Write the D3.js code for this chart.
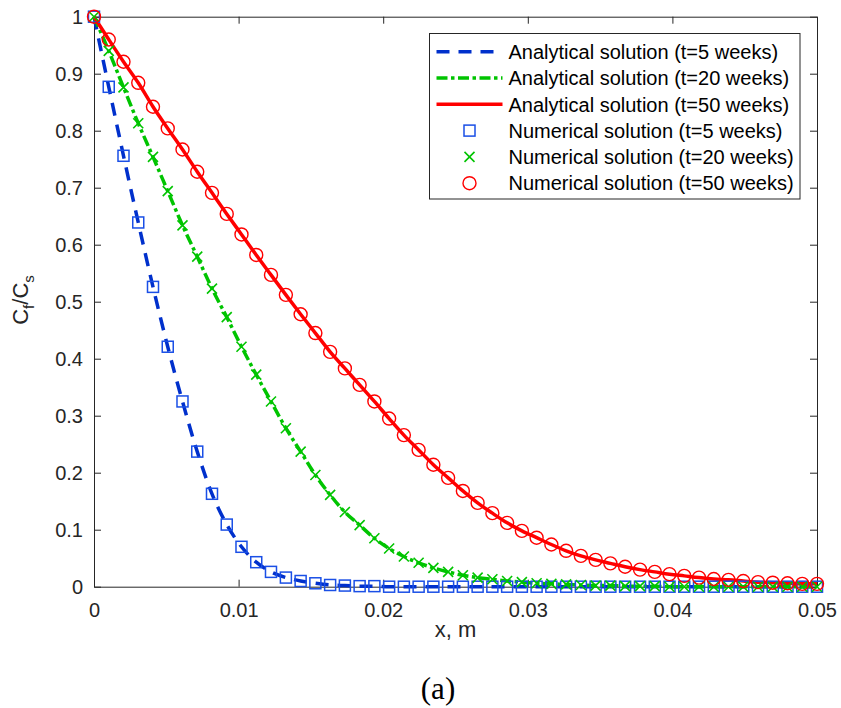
<!DOCTYPE html>
<html>
<head>
<meta charset="utf-8">
<script src="https://cdnjs.cloudflare.com/ajax/libs/d3/7.8.5/d3.min.js"></script>
<style>
	body { margin: 0; background: #fff; }
	text { font-family: "Liberation Sans", Arial, sans-serif; fill: #262626; }
	.axis path, .axis line { stroke: #262626; stroke-width: 1; }
	.axis text { font-size: 20px; fill: #262626; }
</style>
</head>
<body>
<div id="chart"></div>
<script>
// grid of the numerical solution (x, m)
const xGrid = [0, 0.00102, 0.00204, 0.00306, 0.00408, 0.00510, 0.00612, 0.00714, 0.00816, 0.00918,
	0.01020, 0.01122, 0.01224, 0.01327, 0.01429, 0.01531, 0.01633, 0.01735, 0.01837, 0.01939,
	0.02041, 0.02143, 0.02245, 0.02347, 0.02449, 0.02551, 0.02653, 0.02755, 0.02857, 0.02959,
	0.03061, 0.03163, 0.03265, 0.03367, 0.03469, 0.03571, 0.03673, 0.03776, 0.03878, 0.03980,
	0.04082, 0.04184, 0.04286, 0.04388, 0.04490, 0.04592, 0.04694, 0.04796, 0.04898, 0.05];

// Cf/Cs at t = 5, 20, 50 weeks
const c5 = [1, 0.877, 0.756, 0.639, 0.526, 0.421, 0.325, 0.237, 0.163, 0.109,
	0.070, 0.043, 0.026, 0.016, 0.010, 0.006, 0.003, 0.002, 0.001, 0.001,
	0, 0, 0, 0, 0, 0, 0, 0, 0, 0,
	0, 0, 0, 0, 0, 0, 0, 0, 0, 0,
	0, 0, 0, 0, 0, 0, 0, 0, 0, 0];
const c20 = [1, 0.940, 0.876, 0.813, 0.754, 0.694, 0.634, 0.579, 0.523, 0.473,
	0.421, 0.372, 0.325, 0.278, 0.237, 0.196, 0.161, 0.131, 0.108, 0.085,
	0.067, 0.053, 0.042, 0.033, 0.026, 0.020, 0.016, 0.013, 0.010, 0.008,
	0.006, 0.005, 0.004, 0.003, 0.002, 0.002, 0.001, 0.001, 0.001, 0,
	0, 0, 0, 0, 0, 0, 0, 0, 0, 0];
const c50 = [1, 0.960, 0.921, 0.884, 0.842, 0.804, 0.767, 0.728, 0.691, 0.654,
	0.618, 0.582, 0.547, 0.512, 0.478, 0.445, 0.412, 0.383, 0.354, 0.325,
	0.295, 0.266, 0.240, 0.214, 0.191, 0.168, 0.147, 0.129, 0.112, 0.098,
	0.086, 0.074, 0.063, 0.054, 0.047, 0.041, 0.035, 0.030, 0.026, 0.022,
	0.019, 0.016, 0.0135, 0.012, 0.010, 0.008, 0.007, 0.006, 0.005, 0.005];

const xTicks = [0, 0.01, 0.02, 0.03, 0.04, 0.05];
const yTicks = [0, 0.1, 0.2, 0.3, 0.4, 0.5, 0.6, 0.7, 0.8, 0.9, 1];
const legendLabels = [
	"Analytical solution (t=5 weeks)",
	"Analytical solution (t=20 weeks)",
	"Analytical solution (t=50 weeks)",
	"Numerical solution (t=5 weeks)",
	"Numerical solution (t=20 weeks)",
	"Numerical solution (t=50 weeks)"
];

const margin = {top: 16.7, right: 24, bottom: 121.3, left: 94},
	width = 841 - margin.left - margin.right,
	height = 708 - margin.top - margin.bottom;

const blueLine = "#0030cc", blueMark = "#1a4fe6", green = "#00c400", red = "#ff0000";

const toPoints = (vals) => vals.map((v, i) => ({x: xGrid[i], y: v}));

var svg = d3.select("#chart")
	.append("svg")
	.attr("width", 841)
	.attr("height", 708)
	.append("g")
	.attr("transform", "translate(" + margin.left + "," + margin.top + ")");

var xScale = d3.scaleLinear().domain([0, 0.05]).range([0, width]);
var yScale = d3.scaleLinear().domain([0, 1]).range([height, 0]);

// axes, MATLAB style: ticks inward on all four sides
svg.append("g")
	.attr("class", "axis")
	.attr("transform", "translate(0," + height + ")")
	.call(d3.axisBottom(xScale).tickValues(xTicks).tickFormat(d3.format("")).tickSizeInner(-7).tickSizeOuter(0).tickPadding(16));

svg.append("g")
	.attr("class", "axis")
	.call(d3.axisTop(xScale).tickValues(xTicks).tickFormat("").tickSizeInner(-7).tickSizeOuter(0));

svg.append("g")
	.attr("class", "axis")
	.call(d3.axisLeft(yScale).tickValues(yTicks).tickFormat(d3.format("")).tickSizeInner(-7).tickSizeOuter(0).tickPadding(11));

svg.append("g")
	.attr("class", "axis")
	.attr("transform", "translate(" + width + ",0)")
	.call(d3.axisRight(yScale).tickValues(yTicks).tickFormat("").tickSizeInner(-7).tickSizeOuter(0));

svg.append("text")
	.attr("x", width / 2)
	.attr("y", height + 50)
	.attr("text-anchor", "middle")
	.style("font-size", "22px")
	.text("x, m");

var ylab = svg.append("text")
	.attr("transform", "translate(" + (28 - margin.left) + "," + (300 - margin.top) + ") rotate(-90)")
	.attr("text-anchor", "middle")
	.style("font-size", "22px");
ylab.append("tspan").text("C");
ylab.append("tspan").attr("dy", 6).style("font-size", "15px").text("f");
ylab.append("tspan").attr("dy", -6).text("/C");
ylab.append("tspan").attr("dy", 6).style("font-size", "15px").text("s");

svg.append("text")
	.attr("x", 438 - margin.left)
	.attr("y", 699 - margin.top)
	.attr("text-anchor", "middle")
	.style("font-family", "'Liberation Serif', 'Times New Roman', serif")
	.style("font-size", "31px")
	.style("fill", "#000")
	.text("(a)");

// analytical curves
var line = d3.line().x((d) => xScale(d.x)).y((d) => yScale(d.y)).curve(d3.curveMonotoneX);

const analytical = [
	{vals: c5, color: blueLine, dash: "13,9"},
	{vals: c20, color: green, dash: "11,3.5,3.5,3.5"},
	{vals: c50, color: red, dash: null}
];

svg.selectAll(".analytical")
	.data(analytical)
	.enter().append("path")
	.attr("class", "analytical")
	.attr("d", (d) => line(toPoints(d.vals)))
	.attr("fill", "none")
	.attr("stroke", (d) => d.color)
	.attr("stroke-width", 3.5)
	.attr("stroke-dasharray", (d) => d.dash);

// numerical markers
svg.selectAll(".sq")
	.data(toPoints(c5))
	.enter().append("rect")
	.attr("class", "sq")
	.attr("x", (d) => xScale(d.x) - 5.5)
	.attr("y", (d) => yScale(d.y) - 5.5)
	.attr("width", 11)
	.attr("height", 11)
	.attr("fill", "none")
	.attr("stroke", blueMark)
	.attr("stroke-width", 1.5);

svg.selectAll(".cross")
	.data(toPoints(c20))
	.enter().append("path")
	.attr("class", "cross")
	.attr("transform", (d) => "translate(" + xScale(d.x) + "," + yScale(d.y) + ")")
	.attr("d", "M-5,-5L5,5M-5,5L5,-5")
	.attr("stroke", green)
	.attr("stroke-width", 1.6);

svg.selectAll(".circ")
	.data(toPoints(c50))
	.enter().append("circle")
	.attr("class", "circ")
	.attr("cx", (d) => xScale(d.x))
	.attr("cy", (d) => yScale(d.y))
	.attr("r", 6.5)
	.attr("fill", "none")
	.attr("stroke", red)
	.attr("stroke-width", 1.4);

// legend
var legend = svg.append("g")
	.attr("transform", "translate(" + (429.5 - margin.left) + "," + (33.5 - margin.top) + ")");

legend.append("rect")
	.attr("width", 370.5)
	.attr("height", 165.5)
	.attr("fill", "#fff")
	.attr("stroke", "#262626")
	.attr("stroke-width", 1);

var rows = legend.selectAll(".legend")
	.data(legendLabels)
	.enter().append("g")
	.attr("class", "legend")
	.attr("transform", (d, i) => "translate(0," + (18.2 + i * 26.3) + ")");

rows.append("text")
	.attr("x", 79)
	.attr("dy", "0.36em")
	.style("font-size", "20px")
	.style("fill", "#000")
	.text(String);

rows.filter((d, i) => i < 3).append("line")
	.attr("x1", 7)
	.attr("x2", 73)
	.attr("stroke", (d, i) => analytical[i].color)
	.attr("stroke-width", 3.5)
	.attr("stroke-dasharray", (d, i) => analytical[i].dash);

rows.filter((d, i) => i === 3).append("rect")
	.attr("x", 40 - 5.5).attr("y", -5.5).attr("width", 11).attr("height", 11)
	.attr("fill", "none").attr("stroke", blueMark).attr("stroke-width", 1.5);

rows.filter((d, i) => i === 4).append("path")
	.attr("transform", "translate(40,0)")
	.attr("d", "M-5,-5L5,5M-5,5L5,-5")
	.attr("stroke", green).attr("stroke-width", 1.6);

rows.filter((d, i) => i === 5).append("circle")
	.attr("cx", 40).attr("r", 6.5)
	.attr("fill", "none").attr("stroke", red).attr("stroke-width", 1.4);
</script>
</body>
</html>
